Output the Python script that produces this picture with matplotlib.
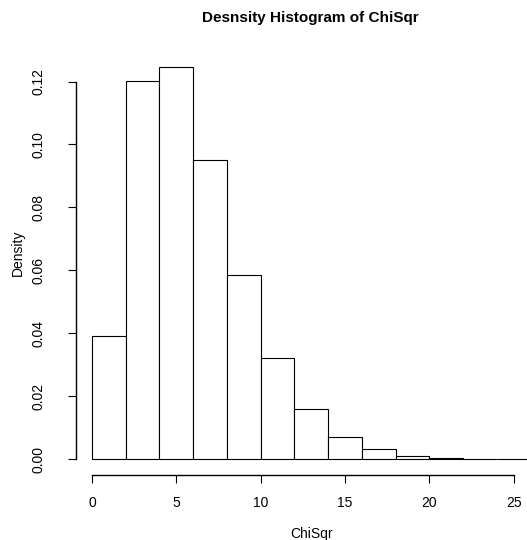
import matplotlib
matplotlib.use("Agg")
import matplotlib.pyplot as plt
import numpy as np

# histogram of ChiSqr, density scale
bin_edges = [0, 2, 4, 6, 8, 10, 12, 14, 16, 18, 20, 22, 24, 26]
density = [0.0391, 0.1203, 0.1247, 0.0950, 0.0587, 0.0323, 0.0160,
           0.0071, 0.0034, 0.00105, 0.00054, 0.0002, 0.0001]
x_ticks = [0, 5, 10, 15, 20, 25]
y_ticks = [0.00, 0.02, 0.04, 0.06, 0.08, 0.10, 0.12]

plt.rcParams['font.family'] = ['Liberation Sans', 'DejaVu Sans']

fig = plt.figure(figsize=(5.27, 5.40), dpi=100)
ax = fig.add_axes([75.5 / 527, 1 - 475 / 540, 1 - 75.5 / 527, (475 - 51) / 540])

edges = np.array(bin_edges)
ax.bar(edges[:-1], density, width=np.diff(edges), align='edge',
       facecolor='white', edgecolor='black', linewidth=0.8)

ax.set_xlim(-0.98, 25.79)
ax.set_ylim(-0.00499, 0.1297)

for s in ['top', 'right']:
    ax.spines[s].set_visible(False)
ax.spines['left'].set_bounds(0, 0.12)
ax.spines['bottom'].set_bounds(0, 25)
for s in ['left', 'bottom']:
    ax.spines[s].set_linewidth(1.0)
    ax.spines[s].set_color('black')
    ax.spines[s].set_zorder(5)

ax.set_xticks(x_ticks)
ax.set_xticklabels([str(t) for t in x_ticks])
ax.set_yticks(y_ticks)
ax.set_yticklabels(['%.2f' % t for t in y_ticks], rotation=90, va='center')
ax.tick_params(axis='x', length=5.8, width=0.8, pad=9, labelsize=10)
ax.tick_params(axis='y', length=5.8, width=0.8, pad=16, labelsize=10)

fig.text(310 / 527, 1 - 18 / 540, 'Desnsity Histogram of ChiSqr',
         ha='center', va='center', fontsize=11, fontweight='bold')
fig.text(312 / 527, 1 - 534 / 540, 'ChiSqr', ha='center', va='center', fontsize=10)
fig.text(18 / 527, 1 - 253 / 540, 'Density', ha='center', va='center',
         rotation=90, fontsize=10)

fig.savefig('out.png', dpi=100)
